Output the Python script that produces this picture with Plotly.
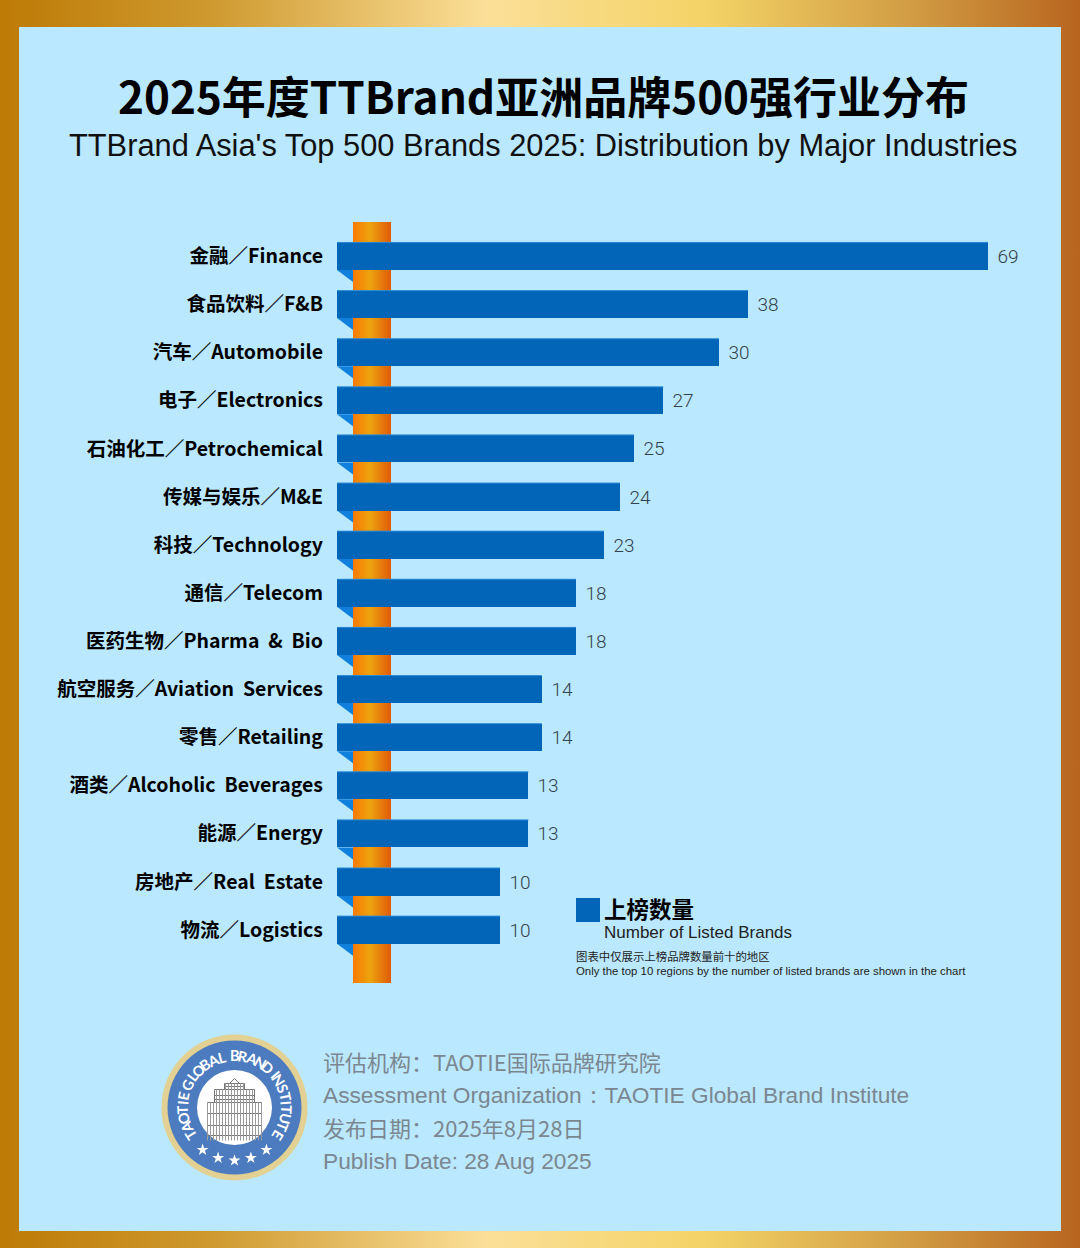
#!/usr/bin/env python3
# -*- coding: utf-8 -*-
import numpy as np
import plotly.graph_objects as go

###############################################################################
# Data

SLASH = "\uff0f"  # full width slash, as in the original labels
COLON = "\uff1a"

industries_zh = ["金融", "食品饮料", "汽车", "电子", "石油化工", "传媒与娱乐", "科技", "通信",
                 "医药生物", "航空服务", "零售", "酒类", "能源", "房地产", "物流"]
industries_en = ["Finance", "F&B", "Automobile", "Electronics", "Petrochemical", "M&E", "Technology", "Telecom",
                 "Pharma  &  Bio", "Aviation  Services", "Retailing", "Alcoholic  Beverages", "Energy",
                 "Real  Estate", "Logistics"]
categories = [zh + SLASH + en for zh, en in zip(industries_zh, industries_en)]

# The numbers printed next to the bars
listed_brands = [69, 38, 30, 27, 25, 24, 23, 18, 18, 14, 14, 13, 13, 10, 10]

# The bars of the original are not to scale with their labels, so the drawn
# lengths are read off the picture separately (in units where the top bar = 69)
drawn_lengths = [69, 43.6, 40.5, 34.6, 31.5, 30.0, 28.3, 25.3, 25.3, 21.7, 21.7, 20.3, 20.3, 17.3, 17.3]

###############################################################################
# Layout constants (pixels of the 1080x1248 page)

W, H = 1080, 1248
bar_left = 337
px_per_unit = 9.43
row_first = 256.2
row_step = 48.12
bar_height = 27.5

BAR = "#0265b8"
BAR_EDGE = "#2a8ad8"
TRIANGLE = "#1080dc"
PANEL = "#bae8fe"
GREY = "#7b8790"
CJK = "Noto Sans CJK SC"
LATIN = "Liberation Sans"

fig = go.Figure()


def poly(xs, ys, **kw):
    fig.add_trace(go.Scatter(x=xs, y=ys, mode="lines", fill="toself", line=dict(width=0),
                             hoverinfo="skip", showlegend=False, xaxis="x", yaxis="y", **kw))


###############################################################################
# Page background

poly([0, W, W, 0, 0], [0, 0, H, H, 0],
     fillgradient=dict(type="horizontal",
                       colorscale=[[0, "#bd7a05"], [0.2, "#cf9a30"], [0.45, "#fbdf98"], [0.65, "#f4d468"],
                                   [0.85, "#d09a42"], [1, "#b8651f"]]))
poly([19, 1061, 1061, 19, 19], [27, 27, 1231, 1231, 27], fillcolor=PANEL)

# Orange column behind the bars
poly([353, 391, 391, 353, 353], [222, 222, 983, 983, 222],
     fillgradient=dict(type="horizontal",
                       colorscale=[[0, "#f97a02"], [0.45, "#eca30e"], [1, "#df5a08"]]))

# Small fold under the left end of each bar
for i in range(len(categories)):
    bottom = row_first + i * row_step + bar_height / 2
    poly([bar_left, 353, 353, bar_left], [bottom, bottom, bottom + 12, bottom], fillcolor=TRIANGLE)

# Legend swatch
poly([576, 600, 600, 576, 576], [898, 898, 922, 922, 898], fillcolor=BAR)

###############################################################################
# Logo

logo_x, logo_y = 234.5, 1107.5
for size, colour in [(146, "#e2d193"), (134, "#4c7cbf"), (75, "#ffffff")]:
    fig.add_trace(go.Scatter(x=[logo_x], y=[logo_y], mode="markers", hoverinfo="skip", showlegend=False,
                             marker=dict(size=size, color=colour, line=dict(width=0)), xaxis="x", yaxis="y"))

# Rough sketch of the church facade in the middle of the logo
facade_x = [-27, -27, 27, 27, None, -20, -20, 20, 20, None, -10, -10, 10, 10, None, -5, 0, 5, None,
            -27, 27, None, -27, 27, None, -27, 27, None, -20, 20, None, -20, 20, None, -10, 10]
facade_y = [33, -5, -5, 33, None, -5, -18, -18, -5, None, -18, -24, -24, -18, None, -24, -29, -24, None,
            6, 6, None, 18, 18, None, 28, 28, None, -12, -12, None, -8, -8, None, -21, -21]
fig.add_trace(go.Scatter(x=[logo_x + v if v is not None else None for v in facade_x],
                         y=[logo_y + v if v is not None else None for v in facade_y],
                         mode="lines", line=dict(color="#777777", width=1), hoverinfo="skip", showlegend=False,
                         xaxis="x", yaxis="y"))
columns = np.arange(-27, 28, 3)
col_x, col_y = [], []
for c in columns:
    if abs(c) <= 9:
        top = -24
    elif abs(c) <= 20:
        top = -18
    else:
        top = -5
    col_x += [logo_x + c, logo_x + c, None]
    col_y += [logo_y + top, logo_y + 33, None]
fig.add_trace(go.Scatter(x=col_x, y=col_y, mode="lines", line=dict(color="#9a9a9a", width=1),
                         hoverinfo="skip", showlegend=False, xaxis="x", yaxis="y"))

star_angles = np.radians([143, 162, 180, 198, 217])
fig.add_trace(go.Scatter(x=logo_x + 53 * np.sin(star_angles), y=logo_y - 53 * np.cos(star_angles),
                         mode="markers", hoverinfo="skip", showlegend=False,
                         marker=dict(symbol="star", size=9, color="#ffffff", line=dict(width=0)),
                         xaxis="x", yaxis="y"))

###############################################################################
# Bars

fig.add_trace(go.Bar(y=categories, x=drawn_lengths, orientation="h", width=bar_height / row_step,
                     marker=dict(color=BAR, line=dict(width=0)),
                     text=[" \u200a" + str(v) for v in listed_brands], textposition="outside",
                     textfont=dict(family="Roboto", size=19, color="#33424c", weight=300),
                     constraintext="none", cliponaxis=False, showlegend=False,
                     xaxis="x2", yaxis="y2"))

# Lighter top edge on each bar
for i, length in enumerate(drawn_lengths):
    edge = i - bar_height / row_step / 2
    fig.add_shape(type="line", xref="x2", yref="y2", x0=0, x1=length, y0=edge, y1=edge,
                  line=dict(color=BAR_EDGE, width=1), layer="above")

###############################################################################
# Text


def label(x, y, text, size, color="#000000", family=CJK, anchor="left", angle=0):
    fig.add_annotation(x=x / W, y=1 - y / H, xref="paper", yref="paper", text=text, showarrow=False,
                       xanchor=anchor, yanchor="middle", textangle=angle, borderpad=0,
                       font=dict(family=family, size=size, color=color))


label(543, 95, "<b>2025年度TTBrand亚洲品牌500强行业分布</b>", 44, anchor="center")
label(543, 145, "TTBrand Asia's Top 500 Brands 2025: Distribution by Major Industries", 30.8,
      color="#111111", family=LATIN, anchor="center")

label(603, 908, "<b>上榜数量</b>", 22.5)
label(603, 932, "Number of Listed Brands", 17, color="#222222", family=LATIN)
label(575, 956, "图表中仅展示上榜品牌数量前十的地区", 11.4, color="#222222")
label(575, 971, "Only the top 10 regions by the number of listed brands are shown in the chart", 11.4,
      color="#222222", family=LATIN)

label(322, 1061, "评估机构" + COLON + "TAOTIE国际品牌研究院", 22, color=GREY)
label(322, 1095, "Assessment Organization" + COLON + "TAOTIE Global Brand Institute", 22.7, color=GREY, family=LATIN)
label(322, 1127, "发布日期" + COLON + "2025年8月28日", 22, color=GREY)
label(322, 1161, "Publish Date: 28 Aug 2025", 22.7, color=GREY, family=LATIN)

# Logo caption running round the ring, one rotated letter at a time
ring_text = "TAOTIE GLOBAL BRAND INSTITUTE"
ring_steps = np.array([0.45 if ch in "I " else 1.0 for ch in ring_text])
ring_pos = np.cumsum(ring_steps) - ring_steps / 2
ring_angles = -122 + 244 * (ring_pos - ring_pos[0]) / (ring_pos[-1] - ring_pos[0])
for ch, ang in zip(ring_text, ring_angles):
    rad = np.radians(ang)
    if ch != " ":
        label(logo_x + 52 * np.sin(rad), logo_y - 52 * np.cos(rad), "<b>" + ch + "</b>", 14.5,
              color="#ffffff", family="Lato", anchor="center", angle=ang)

###############################################################################
# Axes

fig.update_layout(
    width=W, height=H, autosize=False, margin=dict(l=0, r=0, t=0, b=0, pad=0),
    paper_bgcolor=PANEL, plot_bgcolor="rgba(0,0,0,0)", showlegend=False, bargap=0,
    xaxis=dict(domain=[0, 1], range=[0, W], visible=False, fixedrange=True),
    yaxis=dict(domain=[0, 1], range=[H, 0], visible=False, fixedrange=True),
    xaxis2=dict(domain=[bar_left / W, 1], range=[0, (W - bar_left) / px_per_unit], anchor="y2",
                visible=False, fixedrange=True),
    yaxis2=dict(domain=[0, 1], anchor="x2", type="category", categoryorder="array", categoryarray=categories,
                range=[(H - row_first) / row_step, -row_first / row_step], dtick=1,
                showgrid=False, zeroline=False, showline=False, ticks="", ticklabelstandoff=13,
                tickfont=dict(family=CJK, size=19.5, color="#000000", weight=700), fixedrange=True),
)

fig.write_html("out.html", config=dict(displayModeBar=False), post_script="document.body.style.margin='0';")
